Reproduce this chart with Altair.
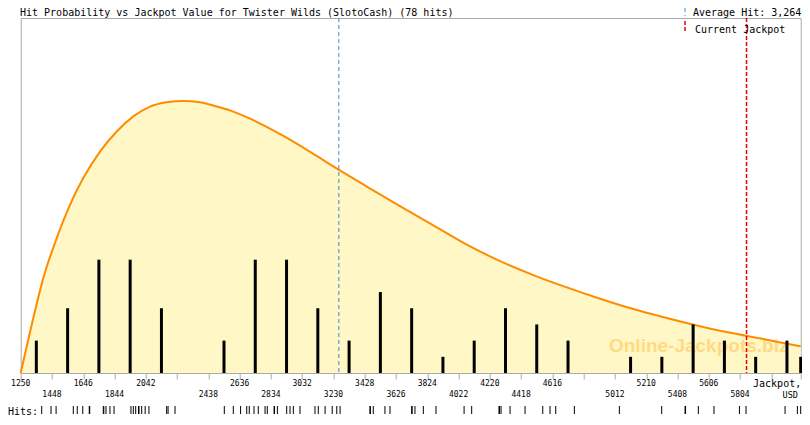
import altair as alt
import pandas as pd
import numpy as np

# ---------------- data ----------------
hits = [1383, 1442,
        1474, 1583, 1608, 1643,
        1684, 1687, 1773, 1776, 1790, 1815, 1841,
        1948, 1963, 1978, 1996, 1999, 2016, 2038,
        2062, 2174, 2183, 2227,
        2539, 2596,
        2642, 2681, 2697, 2727, 2754, 2797, 2811,
        2854, 2857, 2875, 2934, 2955, 2976, 3018,
        3113, 3134, 3177, 3222,
        3251, 3272,
        3461, 3464, 3482, 3556, 3588,
        3725, 3728, 3746, 3799,
        3879,
        4057, 4105,
        4278, 4281, 4291, 4348,
        4443, 4555, 4601,
        4637, 4755,
        5040,
        5308,
        5456, 5459, 5540,
        5639, 5800,
        5842,
        6089, 6167,
        6215]

curve_x = [1250, 1330, 1393, 1478, 1562, 1646, 1752, 1858, 1963, 2069, 2174, 2279,
           2385, 2491, 2596, 2702, 2807, 2913, 3018, 3124, 3229, 3441, 3651, 3862,
           4074, 4285, 4495, 4707, 4918, 5128, 5340, 5551, 5762, 5973, 6230]
curve_y = [0.0, 3.4, 5.86, 8.33, 10.39, 12.04, 13.68, 14.92, 15.85, 16.46, 16.73, 16.81,
           16.73, 16.46, 16.15, 15.71, 15.21, 14.65, 14.05, 13.41, 12.76, 11.52, 10.31, 9.12,
           7.93, 6.91, 6.05, 5.29, 4.59, 3.95, 3.40, 2.89, 2.45, 2.06, 1.65]

tick_values = [1250, 1448, 1646, 1844, 2042, 2240, 2438, 2636, 2834, 3032, 3230, 3428, 3626,
               3824, 4022, 4220, 4418, 4616, 4814, 5012, 5210, 5408, 5606, 5804, 6002, 6200]
labels_row1 = [1250, 1646, 2042, 2636, 3032, 3428, 3824, 4220, 4616, 5210, 5606]
labels_row2 = [1448, 1844, 2438, 2834, 3230, 3626, 4022, 4418, 5012, 5408, 5804]

bin_start = 1250
bin_width = 198
avg_hit = 3264
current_jackpot = 5845
x_domain = [1250, 6188]
y_domain = [0, 21.93]

title_text = "Hit Probability vs Jackpot Value for Twister Wilds (SlotoCash) (78 hits)"
avg_text = "Average Hit: 3,264"
cur_text = "Current Jackpot"
watermark = "Online-Jackpots.biz"

# ---------------- derived tables ----------------
hits_df = pd.DataFrame({"v": hits})
k = np.floor((np.array(hits) - bin_start) / bin_width).astype(int)
cnt = pd.Series(k).value_counts().sort_index()
bars_df = pd.DataFrame({"center": bin_start + cnt.index * bin_width + bin_width / 2,
                        "count": cnt.values})
curve_df = pd.DataFrame({"x": curve_x, "y": curve_y})
row1_df = pd.DataFrame({"v": labels_row1, "t": [str(v) for v in labels_row1]})
row2_df = pd.DataFrame({"v": labels_row2, "t": [str(v) for v in labels_row2]})

MONO = "DejaVu Sans Mono"
GRAY = "#aaaaaa"
W, H = 780, 355
xscale = alt.Scale(domain=x_domain, nice=False, zero=False, clamp=True)
yscale = alt.Scale(domain=y_domain, nice=False, zero=True)
xaxis = alt.Axis(values=tick_values, labels=False, ticks=True, tickSize=6, tickColor=GRAY,
                 domainColor=GRAY, grid=False, title=None)


def X(field):
    return alt.X(field, type="quantitative", scale=xscale, axis=xaxis)


def label(text, x, y, size=10, align="left", baseline="top", font=MONO):
    return alt.Chart(pd.DataFrame({"t": [text]})).mark_text(
        font=font, fontSize=size, align=align, baseline=baseline, color="black").encode(
        x=alt.value(x), y=alt.value(y), text="t:N")


area = alt.Chart(curve_df).mark_area(color="#FFF7C6", interpolate="monotone").encode(
    x=X("x"), y=alt.Y("y:Q", scale=yscale, axis=None))

wm = alt.Chart(pd.DataFrame({"t": [watermark]})).mark_text(
    font="Liberation Sans", fontWeight="bold", fontSize=19, color="#FFA500", opacity=0.35,
    align="center", baseline="middle").encode(
    x=alt.value(678), y=alt.value(328), text="t:N")

line = alt.Chart(curve_df).mark_line(color="#FF8C00", strokeWidth=2, interpolate="monotone").encode(
    x=X("x"), y=alt.Y("y:Q", scale=yscale, axis=None))

bars = alt.Chart(bars_df).mark_rule(color="black", strokeWidth=3).encode(
    x=X("center"), y=alt.Y("count:Q", scale=yscale, axis=None), y2=alt.datum(0))

avg_rule = alt.Chart(pd.DataFrame({"v": [avg_hit]})).mark_rule(
    color="#3a8dc8", strokeDash=[4, 3], strokeWidth=1).encode(x=X("v"))

cur_rule = alt.Chart(pd.DataFrame({"v": [current_jackpot]})).mark_rule(
    color="#ee0000", strokeDash=[4, 2], strokeWidth=1.5).encode(x=X("v"))

rug = alt.Chart(hits_df).mark_rule(color="black", strokeWidth=1).encode(
    x=X("v"), y=alt.value(H + 33), y2=alt.value(H + 41))

row1 = alt.Chart(row1_df).mark_text(font=MONO, fontSize=8, align="center", baseline="middle",
                                    color="black").encode(x=X("v"), y=alt.value(H + 10.5), text="t:N")
row2 = alt.Chart(row2_df).mark_text(font=MONO, fontSize=8, align="center", baseline="middle",
                                    color="black").encode(x=X("v"), y=alt.value(H + 21.5), text="t:N")

jack = label("Jackpot,", W + 0.5, H + 10.5, size=10, align="right", baseline="middle")
usd = label("USD", 769.5, H + 21.5, size=8.5, align="center", baseline="middle")
hits_lbl = label("Hits:", -12.7, H + 42, size=10, baseline="alphabetic")
title = label(title_text, -0.7, -10)
avg_lbl = label(avg_text, 672.3, -10)
cur_lbl = label(cur_text, 674.3, 15, baseline="alphabetic")

avg_key = alt.Chart(pd.DataFrame({"t": [avg_text]})).mark_rule(
    color="#3a8dc8", strokeDash=[4, 3], strokeWidth=1).encode(
    x=alt.value(664.3), y=alt.value(-10), y2=alt.value(-2))

cur_key = alt.Chart(pd.DataFrame({"t": [cur_text]})).mark_rule(
    color="#ee0000", strokeDash=[4, 2], strokeWidth=1.5).encode(
    x=alt.value(664.3), y=alt.value(3), y2=alt.value(15))

chart = alt.layer(
    area, wm, line, bars, avg_rule, cur_rule, rug, row1, row2, jack, usd,
    hits_lbl, title, avg_lbl, cur_lbl, avg_key, cur_key
).properties(
    width=W, height=H,
    autosize=alt.AutoSizeParams(type="none"),
    padding={"left": 12.7, "top": 10, "right": 1.3, "bottom": 44},
    background="white",
).configure_view(stroke=GRAY, strokeWidth=1)

chart.save("out.html", embed_options={"renderer": "svg", "actions": False})
